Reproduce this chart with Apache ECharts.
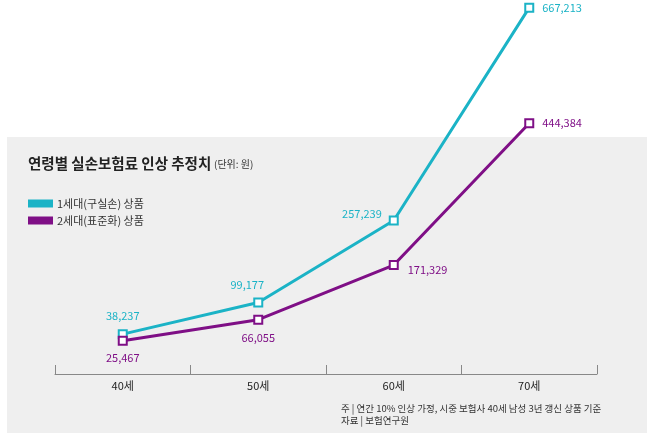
<!DOCTYPE html>
<html><head><meta charset="utf-8">
<script src="https://cdn.jsdelivr.net/npm/echarts@6/dist/echarts.min.js"></script>
<style>html,body{margin:0;padding:0;background:#fff}#c{width:650px;height:439px}</style>
</head><body><div id="c"></div>
<script>
var categories = ['40세', '50세', '60세', '70세'];
var gen1Values = [38237, 99177, 257239, 667213];
var gen2Values = [25467, 66055, 171329, 444384];
var seriesNames = ['1세대(구실손) 상품', '2세대(표준화) 상품'];
var titleText = '연령별 실손보험료 인상 추정치';
var unitText = '(단위: 원)';
var noteLines = ['주 | 연간 10% 인상 가정, 시중 보험사 40세 남성 3년 갱신 상품 기준', '자료 | 보험연구원'];

var CYAN = '#1bb3c6', PURPLE = '#7f0f86';
var FONT = '"Noto Sans CJK KR", "Noto Sans", sans-serif';

var gen1Labels = [
  {position: 'top', distance: 8},
  {position: 'top', distance: 7, offset: [-11, 0]},
  {position: 'left', distance: 7, offset: [0, -7]},
  {position: 'right', distance: 8}
];
var gen2Labels = [
  {position: 'bottom', distance: 7},
  {position: 'bottom', distance: 8},
  {position: 'right', distance: 9, offset: [0, 5]},
  {position: 'right', distance: 8}
];
function build(vals, labs) {
  return vals.map(function (v, i) { return {value: v, label: labs[i]}; });
}
function fmt(p) { return p.value.toLocaleString('en-US'); }

var chart = echarts.init(document.getElementById('c'));
chart.setOption({
  backgroundColor: '#ffffff',
  animation: false,
  textStyle: {fontFamily: FONT},
  graphic: [
    {type: 'rect', z: -10, shape: {x: 7, y: 137, width: 640, height: 296}, style: {fill: '#efefef'}},
    {type: 'text', left: 28, top: 156, style: {text: titleText, font: 'bold 14.5px ' + FONT, fill: '#222'}},
    {type: 'text', left: 214, top: 159, style: {text: unitText, font: '10px ' + FONT, fill: '#333'}},
    {type: 'text', left: 341, top: 402, style: {text: noteLines.join('\n'), font: '9.5px ' + FONT, fill: '#333', lineHeight: 12}}
  ],
  legend: {
    orient: 'vertical', left: 28, top: 198, padding: 0, itemWidth: 25, itemHeight: 8, itemGap: 6,
    icon: 'rect',
    textStyle: {fontSize: 11, color: '#333', fontFamily: FONT, padding: [0, 0, 0, -1]},
    data: seriesNames.map(function (n) { return {name: n, icon: 'rect'}; })
  },
  grid: {left: 55, right: 53, top: 1, bottom: 85},
  xAxis: {
    type: 'category', data: categories, boundaryGap: true, offset: 20,
    axisLine: {onZero: false, lineStyle: {color: '#888', width: 1}},
    axisTick: {show: true, inside: true, length: 9, lineStyle: {color: '#888'}},
    axisLabel: {color: '#222', fontSize: 11, margin: 6, fontFamily: FONT}
  },
  yAxis: {type: 'value', min: 0, max: 680000, show: false, splitLine: {show: false}},
  series: [
    {
      name: seriesNames[0], type: 'line', data: build(gen1Values, gen1Labels),
      symbol: 'emptyRect', symbolSize: 8,
      lineStyle: {color: CYAN, width: 3}, itemStyle: {color: CYAN, borderWidth: 2},
      label: {show: true, color: CYAN, fontSize: 11, fontFamily: FONT, formatter: fmt}
    },
    {
      name: seriesNames[1], type: 'line', data: build(gen2Values, gen2Labels),
      symbol: 'emptyRect', symbolSize: 8,
      lineStyle: {color: PURPLE, width: 3}, itemStyle: {color: PURPLE, borderWidth: 2},
      label: {show: true, color: PURPLE, fontSize: 11, fontFamily: FONT, formatter: fmt}
    }
  ]
});
</script></body></html>
